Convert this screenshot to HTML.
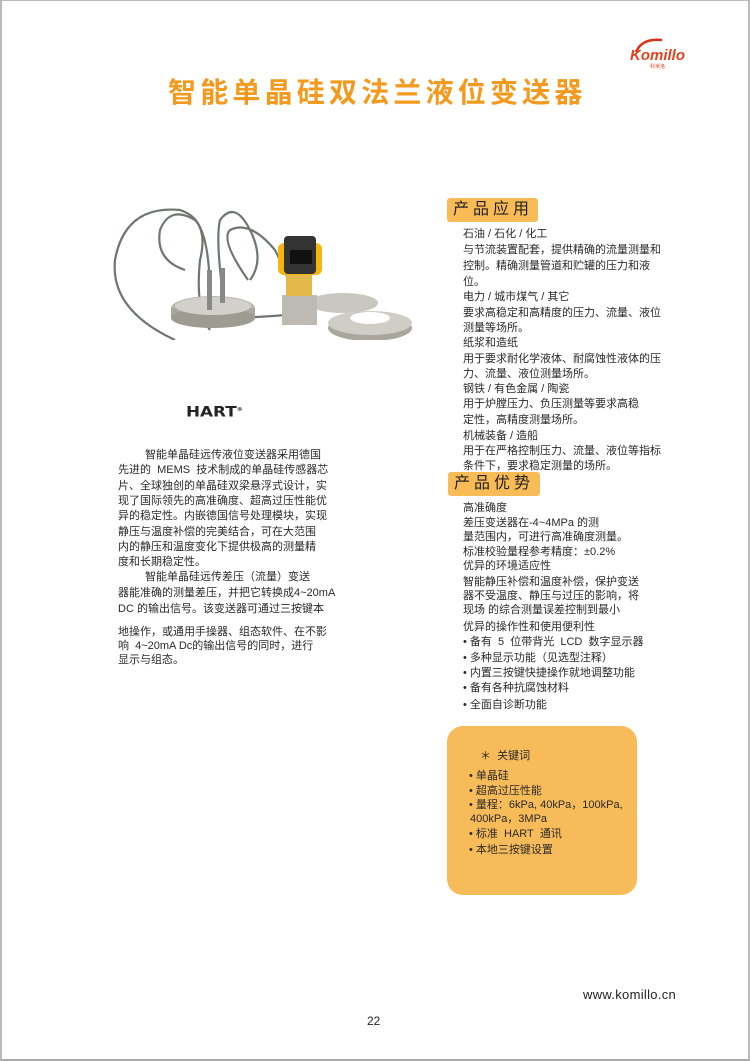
<!DOCTYPE html>
<html><head><meta charset="utf-8"><style>
*{margin:0;padding:0;box-sizing:border-box}
body{width:750px;height:1061px;position:relative;background:#fff;font-family:"Liberation Sans","Noto Sans CJK SC",sans-serif;color:#333;overflow:hidden}
.frame{position:absolute;left:0;top:0;width:750px;height:1061px;border-top:1px solid #bbb;border-left:2px solid #bbb;border-right:2px solid #bbb;border-bottom:2px solid #aaa}
.t{position:absolute;font-size:11px;line-height:14px;white-space:nowrap;color:#2a2a2a}
.hd{position:absolute;background:#f8bb56;border-radius:3px;font-size:16px;letter-spacing:4px;color:#222;line-height:24px;padding-left:6px;white-space:nowrap;overflow:hidden}
</style></head><body>
<div class="frame"></div>
<svg style="position:absolute;left:628px;top:36px" width="60" height="36" viewBox="0 0 60 36">
<path d="M8 16 Q14 2 34 4" stroke="#d9301c" stroke-width="2.5" fill="none"/>
<text x="2" y="24" font-family="Liberation Sans" font-weight="bold" font-style="italic" font-size="15" fill="#e2421d">Komillo</text>
<text x="22" y="32" font-family="Noto Sans CJK SC" font-size="5" fill="#e2421d">科米洛</text>
</svg>
<div style="position:absolute;left:168px;top:75px;font-size:28px;font-weight:bold;color:#f39a1e;letter-spacing:4.2px;white-space:nowrap;line-height:36px">智能单晶硅双法兰液位变送器</div>

<svg style="position:absolute;left:100px;top:200px" width="330" height="140" viewBox="0 0 330 140">
<g fill="none" stroke="#6f7671" stroke-width="2.2">
<path d="M75 140 Q10 110 15 60 Q25 5 80 10 Q110 20 100 60 Q95 110 110 130"/>
<path d="M85 70 Q55 60 60 30 Q70 5 95 20 Q110 35 110 100"/>
<path d="M125 110 Q115 40 120 20 Q135 0 150 30 Q165 60 150 80"/>
<path d="M148 80 Q120 40 130 30 Q150 20 175 50 Q185 70 190 85"/>
<path d="M105 115 Q130 120 185 115"/>
</g>
<ellipse cx="113" cy="108" rx="42" ry="12" fill="#b9b7b0"/>
<rect x="71" y="108" width="84" height="10" fill="#a9a69e"/>
<ellipse cx="113" cy="118" rx="42" ry="10" fill="#9e9b93"/>
<ellipse cx="113" cy="106" rx="38" ry="9" fill="#d2d0ca"/>
<rect x="107" y="70" width="5" height="40" fill="#888"/>
<rect x="120" y="68" width="5" height="35" fill="#888"/>
<ellipse cx="243" cy="103" rx="35" ry="10" fill="#c9c7c0"/>
<ellipse cx="270" cy="128" rx="42" ry="13" fill="#a9a69e"/>
<ellipse cx="270" cy="123" rx="42" ry="12" fill="#cfcdc6"/>
<ellipse cx="270" cy="118" rx="20" ry="6" fill="#fff"/>
<rect x="182" y="95" width="35" height="30" fill="#bdbab3"/>
<rect x="186" y="72" width="26" height="24" fill="#e4b84a"/>
<rect x="178" y="43" width="44" height="32" rx="6" fill="#f6b50e"/>
<rect x="184" y="36" width="32" height="38" rx="4" fill="#333"/>
<rect x="190" y="50" width="22" height="14" fill="#111"/>
</svg>
<div style="position:absolute;left:186px;top:402px;font-size:14px;font-weight:900;color:#222;line-height:16px;transform:scaleX(1.2);transform-origin:left;font-family:'DejaVu Sans',sans-serif">HART<sup style="font-size:5px">®</sup></div>

<div class="t" style="left:145px;top:448px">智能单晶硅远传液位变送器采用德国</div>
<div class="t" style="left:118px;top:463px">先进的&nbsp; MEMS&nbsp; 技术制成的单晶硅传感器芯</div>
<div class="t" style="left:118px;top:479px">片、全球独创的单晶硅双梁悬浮式设计，实</div>
<div class="t" style="left:118px;top:494px">现了国际领先的高准确度、超高过压性能优</div>
<div class="t" style="left:118px;top:509px">异的稳定性。内嵌德国信号处理模块，实现</div>
<div class="t" style="left:118px;top:525px">静压与温度补偿的完美结合，可在大范围</div>
<div class="t" style="left:118px;top:540px">内的静压和温度变化下提供极高的测量精</div>
<div class="t" style="left:118px;top:555px">度和长期稳定性。</div>
<div class="t" style="left:145px;top:570px">智能单晶硅远传差压（流量）变送</div>
<div class="t" style="left:118px;top:586px">器能准确的测量差压，并把它转换成4~20mA</div>
<div class="t" style="left:118px;top:602px">DC 的输出信号。该变送器可通过三按键本</div>
<div class="t" style="left:118px;top:625px">地操作，或通用手操器、组态软件、在不影</div>
<div class="t" style="left:118px;top:639px">响&nbsp; 4~20mA Dc的输出信号的同时，进行</div>
<div class="t" style="left:118px;top:653px">显示与组态。</div>

<div class="hd" style="left:447px;top:198px;width:91px">产品应用</div>
<div class="t" style="left:463px;top:227px">石油 / 石化 / 化工</div>
<div class="t" style="left:463px;top:243px">与节流装置配套，提供精确的流量测量和</div>
<div class="t" style="left:463px;top:259px">控制。精确测量管道和贮罐的压力和液</div>
<div class="t" style="left:463px;top:275px">位。</div>
<div class="t" style="left:463px;top:290px">电力 / 城市煤气 / 其它</div>
<div class="t" style="left:463px;top:306px">要求高稳定和高精度的压力、流量、液位</div>
<div class="t" style="left:463px;top:321px">测量等场所。</div>
<div class="t" style="left:463px;top:336px">纸浆和造纸</div>
<div class="t" style="left:463px;top:352px">用于要求耐化学液体、耐腐蚀性液体的压</div>
<div class="t" style="left:463px;top:367px">力、流量、液位测量场所。</div>
<div class="t" style="left:463px;top:382px">钢铁 / 有色金属 / 陶瓷</div>
<div class="t" style="left:463px;top:397px">用于炉膛压力、负压测量等要求高稳</div>
<div class="t" style="left:463px;top:413px">定性，高精度测量场所。</div>
<div class="t" style="left:463px;top:429px">机械装备 / 造船</div>
<div class="t" style="left:463px;top:444px">用于在严格控制压力、流量、液位等指标</div>
<div class="t" style="left:463px;top:459px">条件下，要求稳定测量的场所。</div>

<div class="hd" style="left:448px;top:472px;width:92px">产品优势</div>
<div class="t" style="left:463px;top:501px">高准确度</div>
<div class="t" style="left:463px;top:516px">差压变送器在-4~4MPa 的测</div>
<div class="t" style="left:463px;top:530px">量范围内，可进行高准确度测量。</div>
<div class="t" style="left:463px;top:545px">标准校验量程参考精度：±0.2%</div>
<div class="t" style="left:463px;top:559px">优异的环境适应性</div>
<div class="t" style="left:463px;top:575px">智能静压补偿和温度补偿，保护变送</div>
<div class="t" style="left:463px;top:589px">器不受温度、静压与过压的影响，将</div>
<div class="t" style="left:463px;top:603px">现场 的综合测量误差控制到最小</div>
<div class="t" style="left:463px;top:620px">优异的操作性和使用便利性</div>
<div class="t" style="left:463px;top:635px">• 备有&nbsp; 5&nbsp; 位带背光&nbsp; LCD&nbsp; 数字显示器</div>
<div class="t" style="left:463px;top:651px">• 多种显示功能（见选型注释）</div>
<div class="t" style="left:463px;top:666px">• 内置三按键快捷操作就地调整功能</div>
<div class="t" style="left:463px;top:681px">• 备有各种抗腐蚀材料</div>
<div class="t" style="left:463px;top:698px">• 全面自诊断功能</div>

<div style="position:absolute;left:447px;top:726px;width:190px;height:169px;background:#f8bb5a;border-radius:16px"></div>
<div class="t" style="left:480px;top:749px">＊&nbsp; 关键词</div>
<div class="t" style="left:469px;top:769px">• 单晶硅</div>
<div class="t" style="left:469px;top:784px">• 超高过压性能</div>
<div class="t" style="left:469px;top:798px">• 量程：6kPa, 40kPa，100kPa,</div>
<div class="t" style="left:470px;top:812px">400kPa，3MPa</div>
<div class="t" style="left:469px;top:827px">• 标准&nbsp; HART&nbsp; 通讯</div>
<div class="t" style="left:469px;top:843px">• 本地三按键设置</div>

<div style="position:absolute;left:583px;top:987px;font-size:13px;color:#222;letter-spacing:0.3px;white-space:nowrap">www.komillo.cn</div>
<div style="position:absolute;left:367px;top:1014px;font-size:12px;color:#222">22</div>
</body></html>
